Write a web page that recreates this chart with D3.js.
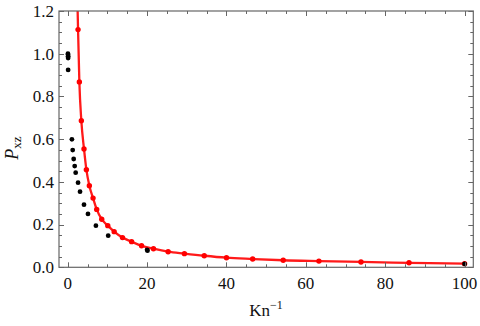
<!DOCTYPE html>
<html>
<head>
<meta charset="utf-8">
<script src="https://cdn.jsdelivr.net/npm/d3@7"></script>
<style>
    body { margin: 0; background: #fff; }
    svg { display: block; }
    text { font-family: "Liberation Serif", "DejaVu Serif", serif; fill: #111; }
</style>
</head>
<body>
<div class="chart"></div>
<script>
// model curve (red)
var modelX = [2.45, 2.6, 2.93, 3.43, 4.1, 4.7, 5.45, 6.38, 7.3, 8.57, 10.1, 11.7, 13.8, 16.1, 18.6,
    21.6, 25.3, 29.4, 34.4, 40, 46.6, 54.3, 63.3, 73.9, 86, 100];
var modelY = [1.24, 1.113, 0.868, 0.686, 0.554, 0.457, 0.382, 0.324, 0.271, 0.225, 0.195, 0.167, 0.139, 0.12, 0.101,
    0.087, 0.073, 0.064, 0.054, 0.045, 0.039, 0.033, 0.029, 0.025, 0.021, 0.017];

// reference data (black dots)
var dataX = [0.05, 0.08, 0.1, 0.1, 0.1, 1.05, 1.25, 1.5, 1.75, 2.0, 2.6, 3.1, 4.1, 5.1, 7.1, 10.2, 20.0, 20.1, 100];
var dataY = [1.0, 0.995, 0.988, 0.98, 0.924, 0.599, 0.549, 0.507, 0.474, 0.443, 0.396, 0.354, 0.293, 0.25, 0.195, 0.148, 0.082, 0.078, 0.016];

var xTicks = [0, 20, 40, 60, 80, 100];
var yTicks = [0, 0.2, 0.4, 0.6, 0.8, 1.0, 1.2];

var W = 480, H = 326;
var pLeft = 59, pRight = 473.3, pTop = 11, pBottom = 267.3;

var x = d3.scaleLinear().domain([-2.2, 102.2]).range([pLeft, pRight]);
var y = d3.scaleLinear().domain([0, 1.2]).range([pBottom, pTop]);

var svg = d3.select(".chart").append("svg")
    .attr("width", W)
    .attr("height", H);

svg.append("clipPath").attr("id", "clip")
    .append("rect")
    .attr("x", pLeft).attr("y", pTop)
    .attr("width", pRight - pLeft).attr("height", pBottom - pTop);

var plot = svg.append("g").attr("clip-path", "url(#clip)");

var model = modelX.map(function (d, i) { return [d, modelY[i]]; });
var data = dataX.map(function (d, i) { return [d, dataY[i]]; });

var line = d3.line()
    .x(function (d) { return x(d[0]); })
    .y(function (d) { return y(d[1]); })
    .curve(d3.curveMonotoneX);

plot.append("path")
    .datum(model)
    .attr("d", line)
    .attr("fill", "none")
    .attr("stroke", "#ff1a1a")
    .attr("stroke-width", 2.3);

plot.selectAll(".mdot")
    .data(model)
    .enter()
    .append("circle")
    .attr("class", "mdot")
    .attr("cx", function (d) { return x(d[0]); })
    .attr("cy", function (d) { return y(d[1]); })
    .attr("r", 2.7)
    .attr("fill", "#ff0000");

plot.selectAll(".ddot")
    .data(data)
    .enter()
    .append("circle")
    .attr("class", "ddot")
    .attr("cx", function (d) { return x(d[0]); })
    .attr("cy", function (d) { return y(d[1]); })
    .attr("r", 2.4)
    .attr("fill", "#000");

// frame with inward ticks on all sides
var frameCol = "#666";
var xMinor = d3.range(0, 101, 5);
var yMinor = d3.range(0, 1.2001, 0.05);

function isMajorX(v) { return v % 20 === 0; }
function isMajorY(v) { return Math.abs(v * 5 - Math.round(v * 5)) < 1e-6; }

var ticks = svg.append("g").attr("stroke", frameCol).attr("stroke-width", 1);

xMinor.forEach(function (v) {
    var len = isMajorX(v) ? 5 : 3;
    var px = Math.round(x(v)) + 0.5;
    ticks.append("line").attr("x1", px).attr("x2", px).attr("y1", pBottom).attr("y2", pBottom - len);
    ticks.append("line").attr("x1", px).attr("x2", px).attr("y1", pTop).attr("y2", pTop + len);
});
yMinor.forEach(function (v) {
    var len = isMajorY(v) ? 5 : 3;
    var py = Math.round(y(v)) + 0.5;
    ticks.append("line").attr("x1", pLeft).attr("x2", pLeft + len).attr("y1", py).attr("y2", py);
    ticks.append("line").attr("x1", pRight).attr("x2", pRight - len).attr("y1", py).attr("y2", py);
});

svg.append("rect")
    .attr("x", pLeft).attr("y", pTop)
    .attr("width", pRight - pLeft).attr("height", pBottom - pTop)
    .attr("fill", "none")
    .attr("stroke", frameCol)
    .attr("stroke-width", 1.2);

// tick labels
svg.selectAll(".xl")
    .data(xTicks)
    .enter()
    .append("text")
    .attr("x", function (d) { return x(d); })
    .attr("y", 288.5)
    .attr("text-anchor", "middle")
    .attr("font-size", 17)
    .text(function (d) { return d; });

svg.selectAll(".yl")
    .data(yTicks)
    .enter()
    .append("text")
    .attr("x", 54)
    .attr("y", function (d) { return y(d) + 5.8; })
    .attr("text-anchor", "end")
    .attr("font-size", 17)
    .text(function (d) { return d.toFixed(1); });

// axis titles
var xt = svg.append("text")
    .attr("x", 266)
    .attr("y", 316)
    .attr("text-anchor", "middle")
    .attr("font-size", 17);
xt.append("tspan").text("Kn");
xt.append("tspan").attr("font-size", 12).attr("dy", -7).text("\u22121");

var yt = svg.append("text")
    .attr("transform", "translate(18,148) rotate(-90)")
    .attr("text-anchor", "middle")
    .attr("font-size", 18);
yt.append("tspan").attr("font-style", "italic").text("P");
yt.append("tspan").attr("font-size", 13).attr("dy", 3).text("xz");
</script>
</body>
</html>
